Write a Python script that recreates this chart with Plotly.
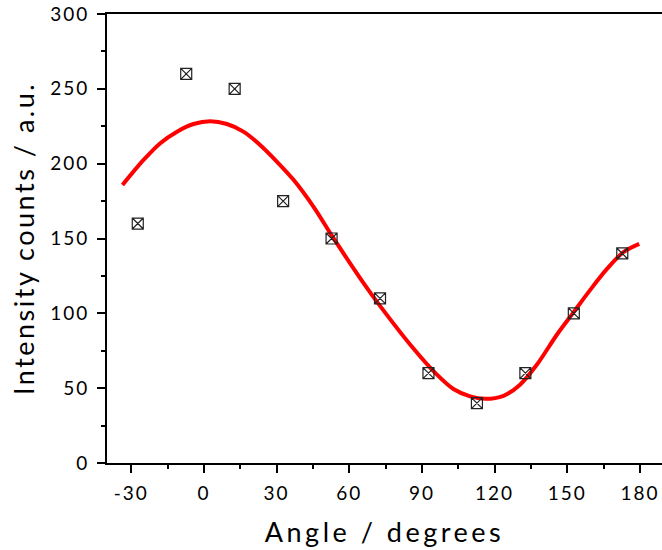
import plotly.graph_objects as go

# Measured intensities versus polariser angle
angle_deg = [-27.3, -7.3, 12.7, 32.7, 52.7, 72.7, 92.7, 112.7, 132.7, 152.7, 172.7]
intensity = [160, 260, 250, 175, 150, 110, 60, 40, 60, 100, 140]

# Fitted curve, sampled along its length
fit_angle = [-33.6, -24.9, -18.0, -11.1, -4.3, 2.6, 9.5, 16.3, 23.2, 30.1, 37.0,
             45.2, 53.5, 65.9, 72.7, 86.5, 96.2, 103.0, 109.9, 116.1, 123.7,
             130.5, 137.4, 145.7, 152.5, 159.4, 166.3, 173.1, 179.7]
fit_intensity = [185.8, 202.5, 213.7, 221.4, 226.5, 228.3, 226.5, 221.4, 212.5,
                 201.4, 189.2, 171.3, 150.2, 120.2, 105.0, 76.5, 59.0, 49.4, 44.5,
                 42.9, 44.9, 52.3, 65.6, 85.7, 100.5, 115.5, 129.5, 140.8, 146.4]

x_ticks = [-30, 0, 30, 60, 90, 120, 150, 180]
y_ticks = [0, 50, 100, 150, 200, 250, 300]

FONT = "Lato, 'Open Sans', sans-serif"


def spaced(text, px):
    """Wrap text in a span with extra letter spacing."""
    return f'<span style="letter-spacing:{px}px">{text}</span>'


fig = go.Figure()

fig.add_trace(go.Scatter(
    x=fit_angle, y=fit_intensity, mode="lines",
    line=dict(color="#ff0000", width=4, shape="spline", smoothing=0.9),
    showlegend=False, hoverinfo="skip",
))

fig.add_trace(go.Scatter(
    x=angle_deg, y=intensity, mode="markers",
    marker=dict(symbol="square-x-open", size=11, color="#222222",
                line=dict(width=1.2, color="#222222")),
    showlegend=False,
))

axis_common = dict(
    showgrid=False, zeroline=False,
    showline=True, linecolor="black", linewidth=2,
    ticks="outside", tickcolor="black", tickwidth=1.5, ticklen=8,
    tickfont=dict(family=FONT, size=19, color="black"),
)

fig.update_xaxes(
    **axis_common,
    range=[-40, 189.1], tickvals=x_ticks,
    ticktext=[spaced(str(v), 2) for v in x_ticks],
    mirror=True,
    ticklabelstandoff=4,
    minor=dict(dtick=15, tick0=0, ticks="outside", ticklen=4,
               tickwidth=1.5, tickcolor="black"),
    title=dict(text=spaced("Angle / degrees", 3.5), standoff=20,
               font=dict(family=FONT, size=27, color="black")),
)

fig.update_yaxes(
    **axis_common,
    range=[0, 300], tickvals=y_ticks,
    ticktext=[spaced(str(v), 2) for v in y_ticks],
    minor=dict(dtick=25, tick0=0, ticks="outside", ticklen=4,
               tickwidth=1.5, tickcolor="black"),
    ticklabelstandoff=4,
    title=dict(text=spaced("Intensity counts / a.u.", 2.5), standoff=8,
               font=dict(family=FONT, size=27, color="black")),
)

fig.update_layout(
    width=662, height=550,
    margin=dict(l=107, r=0, t=14, b=87),
    paper_bgcolor="white", plot_bgcolor="white",
)

fig.write_html("out.html")
